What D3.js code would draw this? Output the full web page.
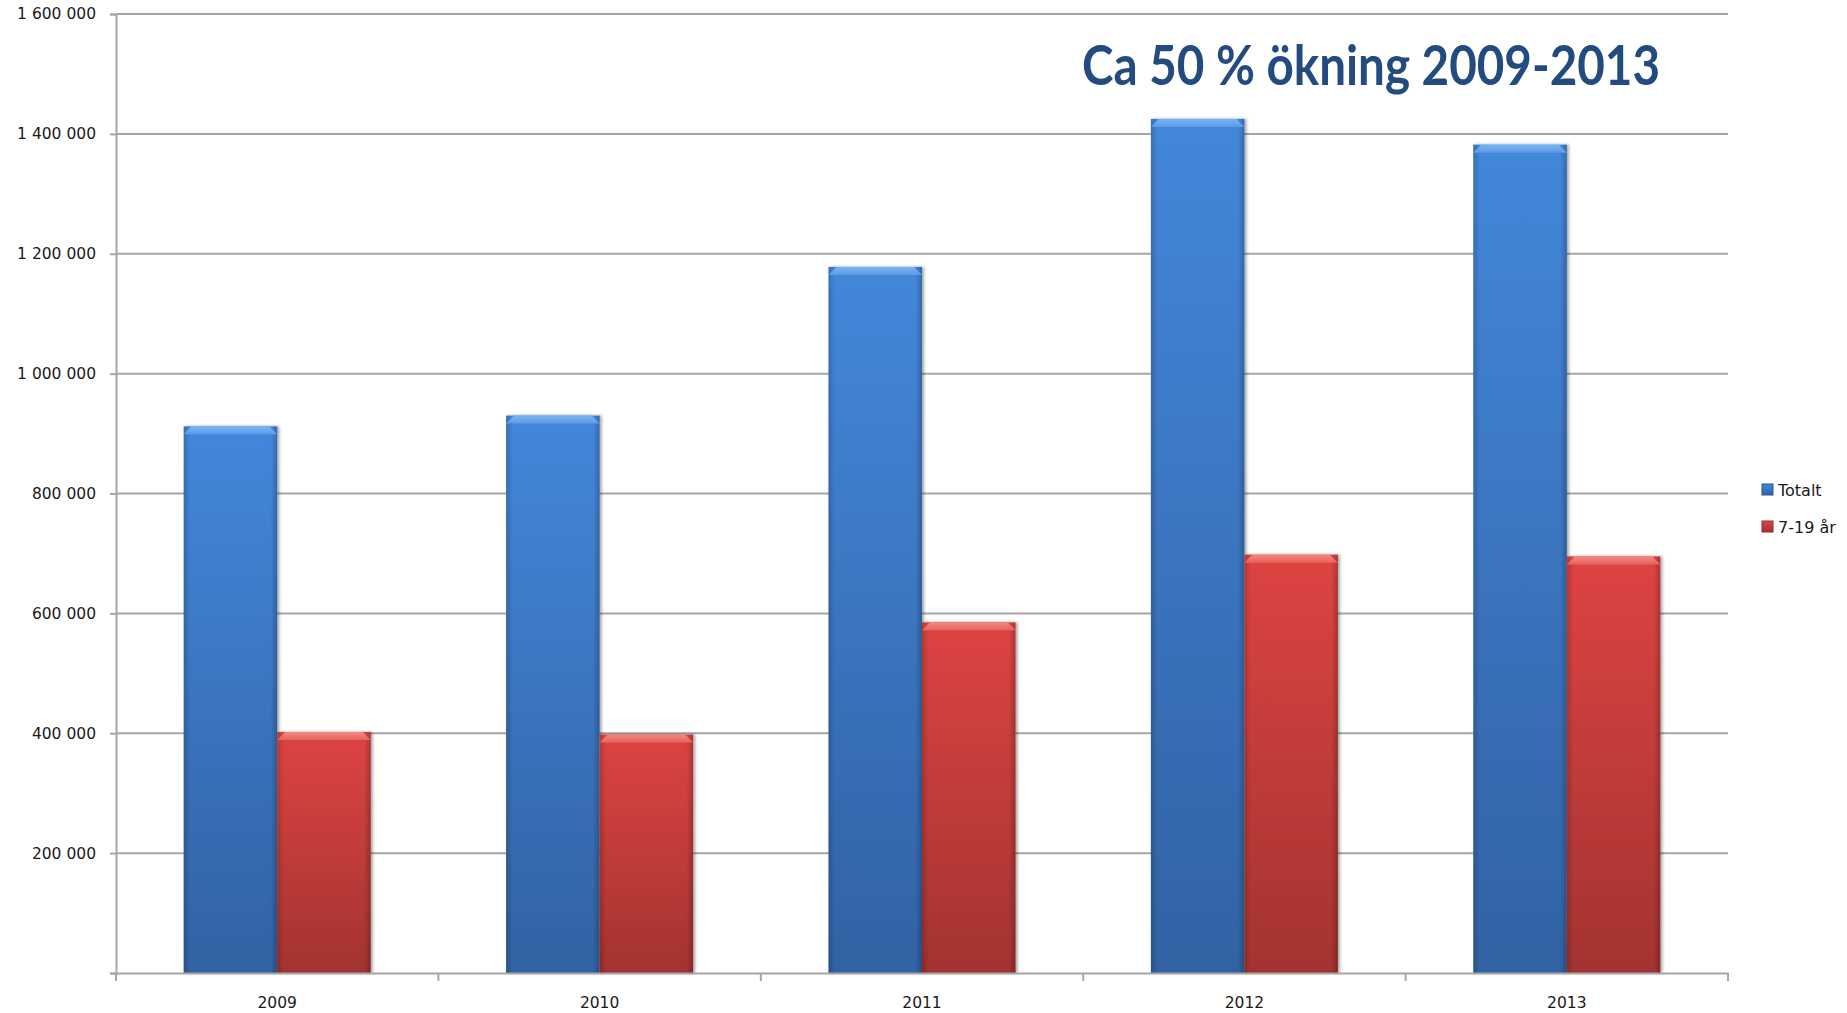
<!DOCTYPE html>
<html>
<head>
<meta charset="utf-8">
<script src="https://d3js.org/d3.v7.min.js"></script>
<style>
    body { margin: 0; background: #fff; }
    svg text { font-family: "DejaVu Sans", Verdana, sans-serif; fill: #1a1a1a; }
</style>
</head>
<body>
<div id="chartContainer"></div>
<script>
const years = ['2009', '2010', '2011', '2012', '2013'];
const seriesNames = ['Totalt', '7-19 år'];
const totalt = [912000, 930000, 1178000, 1425000, 1382000];
const youth = [402000, 398000, 585000, 698000, 695000];
const yTicks = [0, 200000, 400000, 600000, 800000, 1000000, 1200000, 1400000, 1600000];
const titleText = 'Ca 50 % ökning 2009-2013';

const width = 1847;
const height = 1013;
const margin = { top: 14, right: 119, bottom: 40, left: 116 };

const svg = d3.select('#chartContainer')
    .append('svg')
    .attr('width', width)
    .attr('height', height);

const defs = svg.append('defs');

// bar colours: body gradient + lighter bevel on top
const palette = {
    'Totalt': { top: '#4387db', bottom: '#3262a3', bevelTop: '#79b4f4', bevelBottom: '#5d9ae6', edge: '#2b5590' },
    '7-19 år': { top: '#dd4441', bottom: '#a33331', bevelTop: '#f58783', bevelBottom: '#e6625e', edge: '#8f2b29' }
};

seriesNames.forEach((s, i) => {
    const c = palette[s];
    const g = defs.append('linearGradient')
        .attr('id', 'body' + i)
        .attr('x1', 0).attr('y1', 0).attr('x2', 0).attr('y2', 1);
    g.append('stop').attr('offset', '0%').attr('stop-color', c.top);
    g.append('stop').attr('offset', '100%').attr('stop-color', c.bottom);

    const b = defs.append('linearGradient')
        .attr('id', 'bevel' + i)
        .attr('x1', 0).attr('y1', 0).attr('x2', 0).attr('y2', 1);
    b.append('stop').attr('offset', '0%').attr('stop-color', c.bevelTop);
    b.append('stop').attr('offset', '100%').attr('stop-color', c.bevelBottom);
});

// darker side edges
const side = defs.append('linearGradient')
    .attr('id', 'sides')
    .attr('x1', 0).attr('y1', 0).attr('x2', 1).attr('y2', 0);
side.append('stop').attr('offset', '0%').attr('stop-color', '#000').attr('stop-opacity', 0.18);
side.append('stop').attr('offset', '7%').attr('stop-color', '#000').attr('stop-opacity', 0);
side.append('stop').attr('offset', '93%').attr('stop-color', '#000').attr('stop-opacity', 0);
side.append('stop').attr('offset', '100%').attr('stop-color', '#000').attr('stop-opacity', 0.22);

const shadow = defs.append('filter')
    .attr('id', 'shadow')
    .attr('x', '-10%').attr('y', '-5%').attr('width', '125%').attr('height', '110%');
shadow.append('feDropShadow')
    .attr('dx', 2).attr('dy', 0).attr('stdDeviation', 1.5)
    .attr('flood-color', '#000').attr('flood-opacity', 0.35);

const x = d3.scaleBand()
    .domain(years)
    .range([margin.left, width - margin.right])
    .padding(0);

const xInner = d3.scaleBand()
    .domain(seriesNames)
    .range([0, x.bandwidth()])
    .paddingInner(0)
    .paddingOuter(0.724);

const y = d3.scaleLinear()
    .domain([0, 1600000])
    .range([height - margin.bottom, margin.top]);

const fmt = d3.formatLocale({ decimal: ',', thousands: ' ', grouping: [3], currency: ['', ' kr'] }).format(',d');

// gridlines
svg.append('g')
    .selectAll('line')
    .data(yTicks.filter(d => d > 0))
    .enter().append('line')
    .attr('x1', margin.left)
    .attr('x2', width - margin.right)
    .attr('y1', d => y(d))
    .attr('y2', d => y(d))
    .attr('stroke', '#a6a6a6')
    .attr('stroke-width', 2);

// y axis
const yAxis = svg.append('g')
    .attr('transform', `translate(${margin.left},0)`)
    .call(d3.axisLeft(y).tickValues(yTicks).tickFormat(fmt).tickSize(6).tickPadding(14));
yAxis.select('.domain').attr('stroke', '#a6a6a6').attr('stroke-width', 2);
yAxis.selectAll('.tick line').attr('stroke', '#a6a6a6').attr('stroke-width', 2);
yAxis.selectAll('text')
    .attr('font-size', 15.5)
    .attr('fill', '#1a1a1a');
yAxis.selectAll('.tick').filter(d => d === 0).select('text').remove();

// bars
const data = years.map((yr, i) => ({ year: yr, values: [totalt[i], youth[i]] }));

const groups = svg.append('g')
    .selectAll('g')
    .data(data)
    .enter().append('g')
    .attr('transform', d => `translate(${x(d.year)},0)`);

const bars = groups.selectAll('g.bar')
    .data(d => d.values.map((v, i) => ({ series: seriesNames[i], idx: i, value: v })))
    .enter().append('g')
    .attr('class', 'bar')
    .attr('filter', 'url(#shadow)');

bars.append('rect')
    .attr('x', d => xInner(d.series))
    .attr('y', d => y(d.value))
    .attr('width', xInner.bandwidth())
    .attr('height', d => y(0) - y(d.value))
    .attr('fill', d => `url(#body${d.idx})`);

bars.append('rect')
    .attr('x', d => xInner(d.series))
    .attr('y', d => y(d.value))
    .attr('width', xInner.bandwidth())
    .attr('height', d => y(0) - y(d.value))
    .attr('fill', 'url(#sides)');

// bevel on top of each bar
const bevel = 8;
bars.append('path')
    .attr('d', d => {
        const x0 = xInner(d.series);
        const x1 = x0 + xInner.bandwidth();
        const y0 = y(d.value);
        return `M${x0},${y0 + bevel} L${x0 + bevel},${y0} L${x1 - bevel},${y0} L${x1},${y0 + bevel} Z`;
    })
    .attr('fill', d => `url(#bevel${d.idx})`);

// x axis
const baseY = y(0);
const xAxis = svg.append('g')
    .attr('transform', `translate(0,${baseY})`)
    .call(d3.axisBottom(x).tickSize(0).tickPadding(24));
xAxis.select('.domain').attr('stroke', '#a6a6a6').attr('stroke-width', 2);
xAxis.selectAll('text')
    .attr('font-size', 15.5)
    .attr('fill', '#1a1a1a');

const boundaries = years.map(d => x(d)).concat([x(years[years.length - 1]) + x.bandwidth()]);
svg.append('g')
    .selectAll('line')
    .data(boundaries)
    .enter().append('line')
    .attr('x1', d => d)
    .attr('x2', d => d)
    .attr('y1', baseY)
    .attr('y2', baseY + 8)
    .attr('stroke', '#a6a6a6')
    .attr('stroke-width', 2);

// legend
const legend = svg.append('g')
    .attr('transform', 'translate(1762,490)');

const legendItems = legend.selectAll('g')
    .data(seriesNames)
    .enter().append('g')
    .attr('transform', (d, i) => `translate(0,${i * 37})`);

legendItems.append('rect')
    .attr('x', 0)
    .attr('y', -6)
    .attr('width', 11)
    .attr('height', 11)
    .attr('fill', (d, i) => `url(#body${i})`)
    .attr('stroke', (d) => palette[d].edge)
    .attr('stroke-width', 1);

legendItems.append('text')
    .attr('x', 16)
    .attr('y', 0)
    .attr('dy', '0.35em')
    .attr('font-size', 16)
    .attr('fill', '#1a1a1a')
    .text(d => d);

// headline
svg.append('text')
    .attr('x', 1082)
    .attr('y', 85)
    .attr('textLength', 578)
    .attr('lengthAdjust', 'spacingAndGlyphs')
    .style('font-family', 'Lato, "Open Sans", sans-serif')
    .style('font-weight', 'bold')
    .style('font-size', '55px')
    .style('fill', '#234b80')
    .text(titleText);
</script>
</body>
</html>
